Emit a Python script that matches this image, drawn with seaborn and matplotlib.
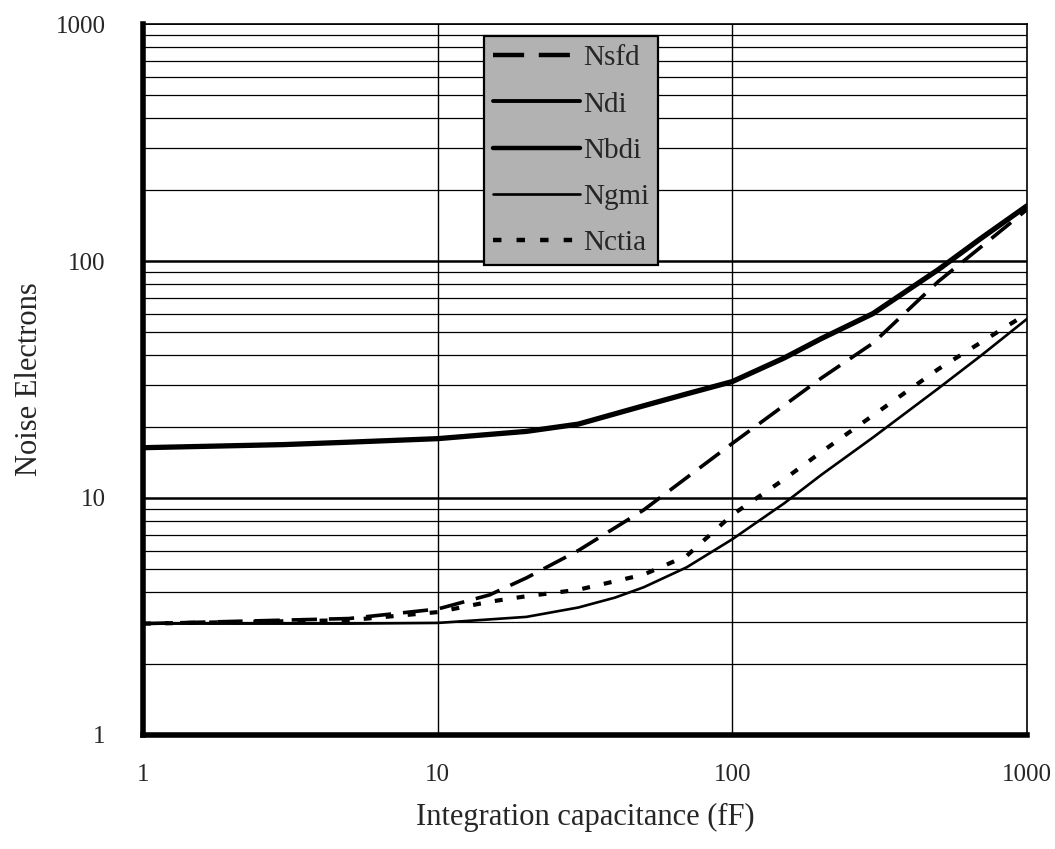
import numpy as np
import pandas as pd
import matplotlib
matplotlib.use("Agg")
import matplotlib.pyplot as plt
from matplotlib.lines import Line2D
from matplotlib.ticker import FixedLocator, NullFormatter
import seaborn as sns

sns.set_style("white")
plt.rcParams['font.family'] = ['Liberation Serif', 'DejaVu Serif']

# --- data (log-log) ---
cap_nbdi = [1, 3, 5, 10, 20, 30, 50, 70, 100, 150, 200, 300, 500, 700, 1000]
nbdi = [16.3, 16.8, 17.2, 17.8, 19.1, 20.5, 24.5, 27.5, 31, 39, 47, 60, 92, 125, 171]

cap_ngmi = [1, 5, 10, 20, 30, 40, 50, 70, 100, 150, 200, 300, 500, 700, 1000]
ngmi = [2.95, 2.95, 2.97, 3.15, 3.45, 3.8, 4.2, 5.1, 6.7, 9.5, 12.5, 18, 29, 40, 57]

cap_nsfd = [1, 5, 10, 15, 20, 30, 50, 100, 200, 300, 500, 700, 1000]
nsfd = [2.95, 3.1, 3.4, 3.9, 4.6, 6.0, 8.9, 17, 32, 45, 82, 115, 165]

cap_nctia = [1, 5, 10, 15, 20, 30, 50, 70, 100, 150, 200, 500, 1000]
nctia = [2.95, 3.05, 3.3, 3.65, 3.85, 4.1, 4.75, 5.7, 8.5, 12, 15.6, 35, 60]

legend_labels = ['Nsfd', 'Ndi', 'Nbdi', 'Ngmi', 'Nctia']
decade_ticks = [1, 10, 100, 1000]
decade_labels = ['1', '10', '100', '1000']

fig = plt.figure(figsize=(10.55, 8.49), dpi=100)
ax = fig.add_axes([0.1355, 0.1343, 0.838, 0.8374])

ax.set_xscale('log')
ax.set_yscale('log')
ax.set_xlim(1, 1000)
ax.set_ylim(1, 1000)

# grid: horizontal at every minor step, vertical only at decades
for y in range(1, 4):
    for k in range(2, 10):
        ax.axhline(k * 10 ** (y - 1), color='black', lw=0.9, zorder=1)
for y in [10, 100]:
    ax.axhline(y, color='black', lw=1.8, zorder=1)
ax.axhline(1000, color='black', lw=1.2, zorder=1)
for x in [10, 100]:
    ax.axvline(x, color='black', lw=1.0, zorder=1)

sns.lineplot(x=cap_nbdi, y=nbdi, ax=ax, color='black', lw=3.8, zorder=3)
sns.lineplot(x=cap_ngmi, y=ngmi, ax=ax, color='black', lw=1.9, zorder=3)
sns.lineplot(x=cap_nsfd, y=nsfd, ax=ax, color='black', lw=2.6, zorder=3).lines[-1].set_dashes([7, 3.3])
sns.lineplot(x=cap_nctia, y=nctia, ax=ax, color='black', lw=3.0, zorder=3).lines[-1].set_dashes([1.9, 3.4])

# axes frame
for side in ['left', 'bottom']:
    ax.spines[side].set_linewidth(4)
for side in ['top', 'right']:
    ax.spines[side].set_linewidth(1.2)
for s in ax.spines.values():
    s.set_color('black')
    s.set_zorder(4)

ax.xaxis.set_major_locator(FixedLocator(decade_ticks))
ax.yaxis.set_major_locator(FixedLocator(decade_ticks))
ax.xaxis.set_minor_formatter(NullFormatter())
ax.yaxis.set_minor_formatter(NullFormatter())
ax.set_xticks(decade_ticks, decade_labels)
ax.set_yticks(decade_ticks, decade_labels)
ax.tick_params(which='minor', length=0)
ax.tick_params(which='major', direction='inout', length=10, width=3,
               labelsize=18, color='black')
ax.tick_params(axis='x', pad=16)
ax.tick_params(axis='y', pad=22)

ax.set_xlabel('Integration capacitance (fF)', fontsize=22, labelpad=12)
ax.set_ylabel('Noise Electrons', fontsize=22, labelpad=8)

handles = [
    Line2D([], [], color='black', lw=3.2, dashes=[7, 3.3]),
    Line2D([], [], color='black', lw=2.8),
    Line2D([], [], color='black', lw=3.2),
    Line2D([], [], color='black', lw=1.9),
    Line2D([], [], color='black', lw=3.2, dashes=[1.9, 3.4]),
]
leg = ax.legend(handles, legend_labels, loc='upper left',
                bbox_to_anchor=(0.386, 0.983), borderaxespad=0, fontsize=21,
                handlelength=3.0, handletextpad=0.1, labelspacing=0.68,
                borderpad=0.3, fancybox=False, framealpha=1)
frame = leg.get_frame()
frame.set_facecolor('#b2b2b2')
frame.set_edgecolor('black')
frame.set_linewidth(1.6)
leg.set_zorder(5)

plt.savefig('out.png', dpi=100)
